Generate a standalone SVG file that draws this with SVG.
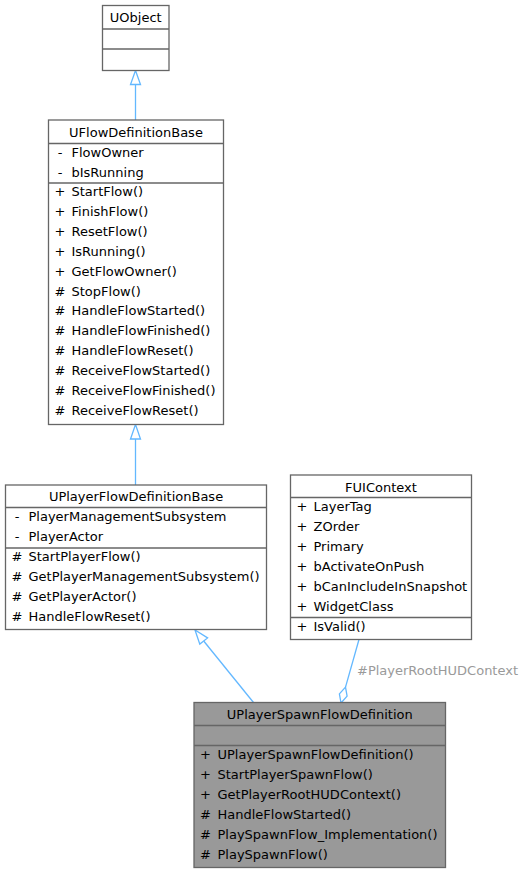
<svg xmlns="http://www.w3.org/2000/svg" width="525" height="873" viewBox="0 0 525 873">
<style>
.box{fill:#ffffff;stroke:#666666;stroke-width:1.3}
.dark{fill:#999999;stroke:#666666;stroke-width:1.3}
.sep{stroke:#666666;stroke-width:1.3}
text{font-family:"DejaVu Sans","Liberation Sans",sans-serif;font-size:13px;fill:#000000}
.t{text-anchor:middle}
.v{text-anchor:middle}
.edge{stroke:#63b8ff;stroke-width:1.3;fill:none}
.head{stroke:#63b8ff;stroke-width:1.3;fill:#ffffff}
.lbl{fill:#9a9a9a}
</style>
<rect width="525" height="873" fill="#ffffff"/>
<g id="connectors">
<line class="edge" x1="135.5" y1="120" x2="135.5" y2="84.5"/>
<polygon class="head" points="135.5,70.5 130.5,84.5 140.5,84.5"/>
<line class="edge" x1="135.5" y1="485" x2="135.5" y2="439"/>
<polygon class="head" points="135.5,424.5 130.5,439 140.5,439"/>
<line class="edge" x1="253.5" y1="702.5" x2="203.7" y2="641"/>
<polygon class="head" points="195,630 199.8,644.1 207.6,637.9"/>
<line class="edge" x1="359" y1="639.5" x2="345.5" y2="687.1"/>
<polygon class="head" points="341,703 339.4,693.9 345.5,687.1 347.1,696.1"/>
<text class="lbl" x="357" y="674.5">#PlayerRootHUDContext</text>
</g>
<g id="UObject">
<rect class="box" x="102.5" y="5.5" width="66.5" height="65"/>
<line class="sep" x1="102.5" y1="29" x2="169" y2="29"/>
<line class="sep" x1="102.5" y1="49" x2="169" y2="49"/>
<text class="t" x="135.75" y="21.8">UObject</text>
</g>
<g id="UFlowDefinitionBase">
<rect class="box" x="48.5" y="120" width="175" height="304.5"/>
<line class="sep" x1="48.5" y1="143.5" x2="223.5" y2="143.5"/>
<line class="sep" x1="48.5" y1="183" x2="223.5" y2="183"/>
<text class="t" x="136" y="136.8">UFlowDefinitionBase</text>
<text class="v" x="60" y="157.2">-</text><text x="71.5" y="157.2">FlowOwner</text>
<text class="v" x="60" y="176.8">-</text><text x="71.5" y="176.8">bIsRunning</text>
<text class="v" x="60" y="196.3">+</text><text x="71.5" y="196.3">StartFlow()</text>
<text class="v" x="60" y="216.1">+</text><text x="71.5" y="216.1">FinishFlow()</text>
<text class="v" x="60" y="236">+</text><text x="71.5" y="236">ResetFlow()</text>
<text class="v" x="60" y="255.8">+</text><text x="71.5" y="255.8">IsRunning()</text>
<text class="v" x="60" y="275.7">+</text><text x="71.5" y="275.7">GetFlowOwner()</text>
<text class="v" x="60" y="295.5">#</text><text x="71.5" y="295.5">StopFlow()</text>
<text class="v" x="60" y="315.4">#</text><text x="71.5" y="315.4">HandleFlowStarted()</text>
<text class="v" x="60" y="335.2">#</text><text x="71.5" y="335.2">HandleFlowFinished()</text>
<text class="v" x="60" y="355.1">#</text><text x="71.5" y="355.1">HandleFlowReset()</text>
<text class="v" x="60" y="374.9">#</text><text x="71.5" y="374.9">ReceiveFlowStarted()</text>
<text class="v" x="60" y="394.8">#</text><text x="71.5" y="394.8">ReceiveFlowFinished()</text>
<text class="v" x="60" y="414.6">#</text><text x="71.5" y="414.6">ReceiveFlowReset()</text>
</g>
<g id="UPlayerFlowDefinitionBase">
<rect class="box" x="5.5" y="485" width="261" height="144.5"/>
<line class="sep" x1="5.5" y1="507.5" x2="266.5" y2="507.5"/>
<line class="sep" x1="5.5" y1="548" x2="266.5" y2="548"/>
<text class="t" x="136" y="501.3">UPlayerFlowDefinitionBase</text>
<text class="v" x="17" y="521.2">-</text><text x="28.5" y="521.2">PlayerManagementSubsystem</text>
<text class="v" x="17" y="541">-</text><text x="28.5" y="541">PlayerActor</text>
<text class="v" x="17" y="561">#</text><text x="28.5" y="561">StartPlayerFlow()</text>
<text class="v" x="17" y="581">#</text><text x="28.5" y="581">GetPlayerManagementSubsystem()</text>
<text class="v" x="17" y="601">#</text><text x="28.5" y="601">GetPlayerActor()</text>
<text class="v" x="17" y="621">#</text><text x="28.5" y="621">HandleFlowReset()</text>
</g>
<g id="FUIContext">
<rect class="box" x="290.5" y="475" width="181" height="164.5"/>
<line class="sep" x1="290.5" y1="497.5" x2="471.5" y2="497.5"/>
<line class="sep" x1="290.5" y1="617.5" x2="471.5" y2="617.5"/>
<text class="t" x="381" y="491.5">FUIContext</text>
<text class="v" x="302" y="511.2">+</text><text x="313.5" y="511.2">LayerTag</text>
<text class="v" x="302" y="531.2">+</text><text x="313.5" y="531.2">ZOrder</text>
<text class="v" x="302" y="551.2">+</text><text x="313.5" y="551.2">Primary</text>
<text class="v" x="302" y="571.2">+</text><text x="313.5" y="571.2">bActivateOnPush</text>
<text class="v" x="302" y="591.2">+</text><text x="313.5" y="591.2">bCanIncludeInSnapshot</text>
<text class="v" x="302" y="611">+</text><text x="313.5" y="611">WidgetClass</text>
<text class="v" x="302" y="631">+</text><text x="313.5" y="631">IsValid()</text>
</g>
<g id="UPlayerSpawnFlowDefinition">
<rect class="dark" x="194" y="702.5" width="251.5" height="165"/>
<line class="sep" x1="194" y1="725.5" x2="445.5" y2="725.5"/>
<line class="sep" x1="194" y1="745.5" x2="445.5" y2="745.5"/>
<text class="t" x="319.75" y="718.8">UPlayerSpawnFlowDefinition</text>
<text class="v" x="205.5" y="759">+</text><text x="217.5" y="759">UPlayerSpawnFlowDefinition()</text>
<text class="v" x="205.5" y="779">+</text><text x="217.5" y="779">StartPlayerSpawnFlow()</text>
<text class="v" x="205.5" y="799">+</text><text x="217.5" y="799">GetPlayerRootHUDContext()</text>
<text class="v" x="205.5" y="819">#</text><text x="217.5" y="819">HandleFlowStarted()</text>
<text class="v" x="205.5" y="839">#</text><text x="217.5" y="839">PlaySpawnFlow_Implementation()</text>
<text class="v" x="205.5" y="859">#</text><text x="217.5" y="859">PlaySpawnFlow()</text>
</g>
</svg>
